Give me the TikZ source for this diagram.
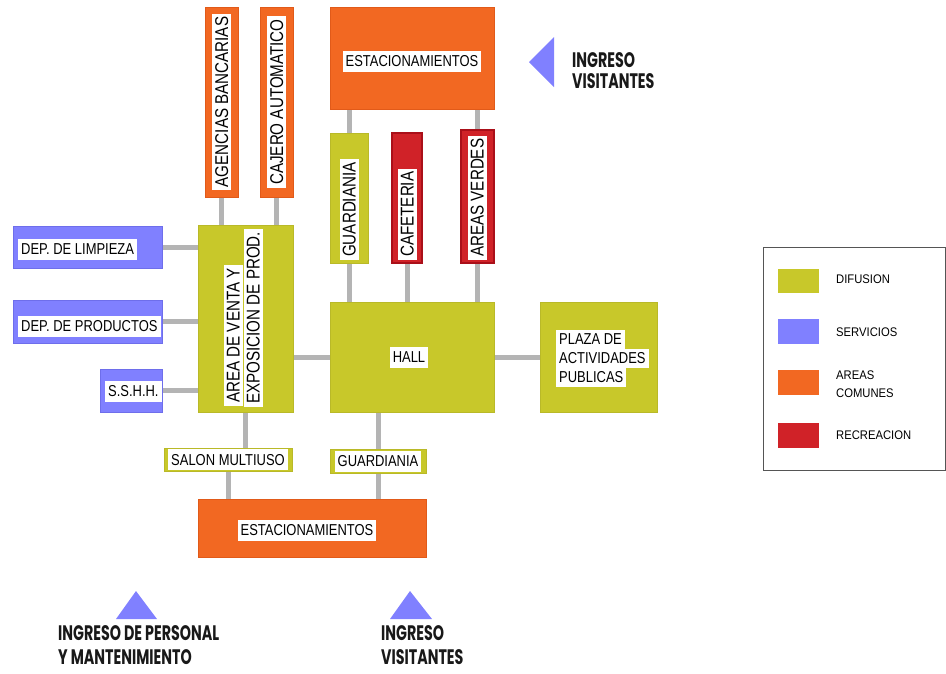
\documentclass[tikz,border=0pt]{standalone}
\usepackage{fontspec}
\setmainfont{Liberation Sans}
\newfontfamily\labf[FakeStretch=0.82]{Liberation Sans}
\newfontfamily\legf[FakeStretch=0.9]{Liberation Sans}
\newfontfamily\entf[FakeStretch=0.68]{Poppins}
\usetikzlibrary{backgrounds}
\definecolor{difc}{RGB}{200,200,42}
\definecolor{difb}{RGB}{185,185,40}
\definecolor{serc}{RGB}{128,128,255}
\definecolor{serb}{RGB}{110,110,235}
\definecolor{comc}{RGB}{242,104,34}
\definecolor{comb}{RGB}{225,90,25}
\definecolor{recc}{RGB}{208,34,40}
\definecolor{recb}{RGB}{170,15,25}
\definecolor{conc}{RGB}{180,180,180}
\definecolor{legb}{RGB}{85,85,85}
\tikzset{
  zone/.style={rectangle, inner sep=0pt, outer sep=0pt, anchor=north west, line width=1pt},
  dif/.style={zone, fill=difc, draw=difb},
  ser/.style={zone, fill=serc, draw=serb},
  com/.style={zone, fill=comc, draw=comb},
  rec/.style={zone, fill=recc, draw=recb, line width=2pt},
  lbl/.style={fill=white, inner xsep=3pt, inner ysep=0pt, minimum height=21pt, text height=11.5pt, text depth=0pt, font=\labf\fontsize{15.8}{18}\selectfont},
  vlbl/.style={lbl, rotate=90, minimum height=19pt, text height=13pt, font=\labf\fontsize{18.5}{20}\selectfont},
  conn/.style={draw=conc, line width=5pt},
  legt/.style={anchor=west, inner sep=0pt, align=left, font=\legf\fontsize{12.5}{18}\selectfont},
  entt/.style={anchor=north west, inner sep=0pt, align=left, text=black!90, text depth=0pt, font=\entf\bfseries\fontsize{21}{24}\selectfont},
  tri/.style={fill=serc}
}
\begin{document}
\begin{tikzpicture}[x=1pt,y=-1pt]
\useasboundingbox (0,0) rectangle (946,673);
% zones
\node[com, minimum width=33pt, minimum height=190pt] (agen) at (205,7) {};
\node[com, minimum width=33pt, minimum height=190pt] (caje) at (260,7) {};
\node[com, minimum width=164pt, minimum height=102pt] (estT) at (330,7) {};
\node[dif, minimum width=38pt, minimum height=130pt] (guaT) at (330,133) {};
\node[rec, minimum width=30pt, minimum height=130pt] (cafe) at (392,133) {};
\node[rec, minimum width=33pt, minimum height=133pt] (verd) at (461,130) {};
\node[dif, minimum width=95pt, minimum height=187pt] (area) at (198,225) {};
\node[ser, minimum width=149pt, minimum height=42pt] (limp) at (13,226) {};
\node[ser, minimum width=149pt, minimum height=43pt] (prod) at (13,300) {};
\node[ser, minimum width=62pt, minimum height=43pt] (sshh) at (100,369) {};
\node[dif, minimum width=164pt, minimum height=110pt] (hall) at (330,302) {};
\node[dif, minimum width=117pt, minimum height=110pt] (plaz) at (540,302) {};
\node[dif, minimum width=128pt, minimum height=23pt] (salo) at (164,448) {};
\node[dif, minimum width=96pt, minimum height=24pt] (guaB) at (330,449) {};
\node[com, minimum width=228pt, minimum height=58pt] (estB) at (198,499) {};
% connectors
\begin{scope}[on background layer]
\draw[conn] (agen.south) -- (agen.south |- area.north);
\draw[conn] (caje.south) -- (caje.south |- area.north);
\draw[conn] (guaT.north) -- (guaT.north |- estT.south);
\draw[conn] (verd.north) -- (verd.north |- estT.south);
\draw[conn] (guaT.south) -- (guaT.south |- hall.north);
\draw[conn] (cafe.south) -- (cafe.south |- hall.north);
\draw[conn] (verd.south) -- (verd.south |- hall.north);
\draw[conn] (limp.east) -- (limp.east -| area.west);
\draw[conn] (prod.east) -- (prod.east -| area.west);
\draw[conn] (sshh.east) -- (sshh.east -| area.west);
\draw[conn] (hall.west) -- (hall.west -| area.east);
\draw[conn] (hall.east) -- (plaz.west);
\draw[conn] (area.south) -- (area.south |- salo.north);
\draw[conn] (salo.south) -- (salo.south |- estB.north);
\draw[conn] (guaB.north) -- (guaB.north |- hall.south);
\draw[conn] (guaB.south) -- (guaB.south |- estB.north);
\end{scope}
% labels
\node[vlbl] (tagen) at (agen.center) {AGENCIAS BANCARIAS};
\node[vlbl] (tcaje) at (caje.center) {CAJERO AUTOMATICO};
\node[vlbl, anchor=west] (tguaT) at (349,260) {GUARDIANIA};
\node[vlbl, anchor=west] (tcafe) at (407,260) {CAFETERIA};
\node[vlbl, anchor=west] (tverd) at (477,260) {AREAS VERDES};
\node[vlbl, anchor=west] (tarea1) at (233,406) {AREA DE VENTA Y};
\node[vlbl, anchor=west] (tarea2) at (253,407) {EXPOSICION DE PROD.};
\node[lbl] (testT) at (412,61) {ESTACIONAMIENTOS};
\node[lbl, anchor=west] (tlimp) at (18,249) {DEP. DE LIMPIEZA};
\node[lbl, anchor=west] (tprod) at (18,326) {DEP. DE PRODUCTOS};
\node[lbl, anchor=west] (tsshh) at (105,391) {S.S.H.H.};
\node[lbl] (thall) at (409,357) {HALL};
\node[lbl, anchor=west, minimum height=19pt] (tplaz1) at (556,339) {PLAZA DE};
\node[lbl, anchor=west, minimum height=19pt] (tplaz2) at (556,358) {ACTIVIDADES};
\node[lbl, anchor=west, minimum height=19pt] (tplaz3) at (556,377) {PUBLICAS};
\node[lbl] (tsalo) at (salo.center) {SALON MULTIUSO};
\node[lbl] (tguaB) at (guaB.center) {GUARDIANIA};
\node[lbl] (testB) at (307,530) {ESTACIONAMIENTOS};
% entrances
\fill[tri] (136,591) -- (157,619) -- (116,619) -- cycle;
\fill[tri] (410,591) -- (432,619) -- (390,619) -- cycle;
\fill[tri] (529,62) -- (554,37) -- (554,87) -- cycle;
\node[entt] (in1) at (58,625) {INGRESO DE PERSONAL\\Y MANTENIMIENTO};
\node[entt] (in2) at (381,625) {INGRESO\\VISITANTES};
\node[entt, font=\entf\bfseries\fontsize{21}{21.6}\selectfont] (in3) at (572,52) {INGRESO\\VISITANTES};
% legend
\node[zone, draw=legb, line width=0.8pt, minimum width=182pt, minimum height=223pt] (leg) at (763,247) {};
\node[zone, fill=difc, minimum width=41pt, minimum height=24pt] (sw1) at (778,269) {};
\node[zone, fill=serc, minimum width=41pt, minimum height=25pt] (sw2) at (778,319) {};
\node[zone, fill=comc, minimum width=41pt, minimum height=25pt] (sw3) at (778,370) {};
\node[zone, fill=recc, minimum width=41pt, minimum height=25pt] (sw4) at (778,423) {};
\node[legt] (lg1) at (836,279) {DIFUSION};
\node[legt] (lg2) at (836,332) {SERVICIOS};
\node[legt] (lg3) at (836,384) {AREAS\\COMUNES};
\node[legt] (lg4) at (836,435) {RECREACION};
\end{tikzpicture}
\end{document}
